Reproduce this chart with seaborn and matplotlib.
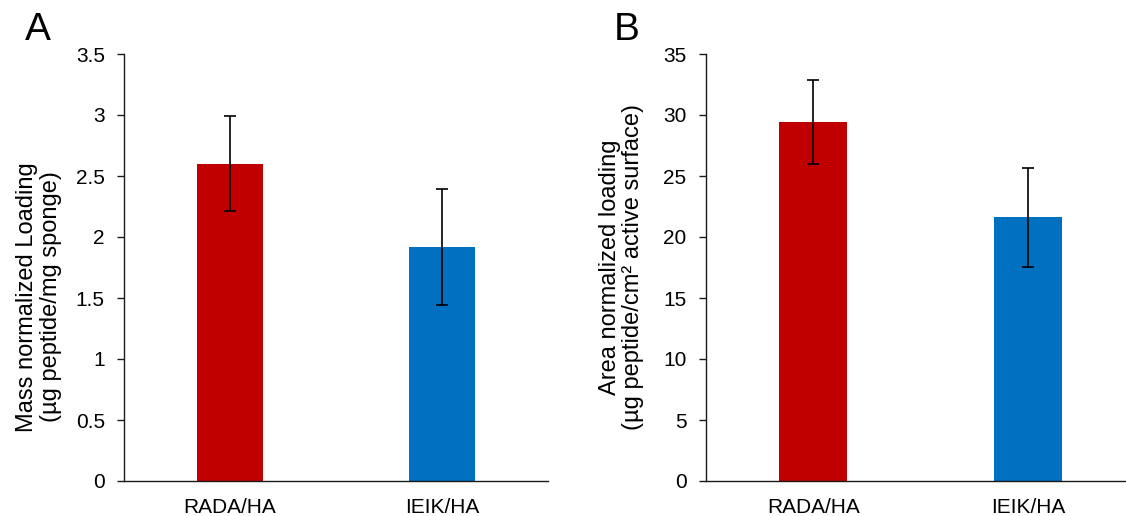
import matplotlib
matplotlib.use("Agg")
import matplotlib.pyplot as plt
import seaborn as sns
import pandas as pd

categories = ["RADA/HA", "IEIK/HA"]
mass_values = [2.60, 1.92]
mass_errors = [0.39, 0.475]
area_values = [29.4, 21.6]
area_errors = [3.45, 4.05]
bar_colors = ["#C00000", "#0070C0"]

sns.set_style("white")
plt.rcParams["font.family"] = ["Liberation Sans", "DejaVu Sans"]
plt.rcParams["font.size"] = 15
plt.rcParams["text.color"] = "black"
plt.rcParams["axes.labelcolor"] = "black"
plt.rcParams["xtick.color"] = "black"
plt.rcParams["ytick.color"] = "black"

fig = plt.figure(figsize=(11.26, 5.16), dpi=100)
axA = fig.add_axes([124 / 1126, 35 / 516, 424 / 1126, 427 / 516])
axB = fig.add_axes([705.7 / 1126, 35 / 516, 420.3 / 1126, 427 / 516])

def draw(ax, values, errors, ylim, yticks, ticklabels, ylabel, xmax, label_y):
    df = pd.DataFrame({"cat": categories, "val": values})
    sns.barplot(data=df, x="cat", y="val", hue="cat", palette=bar_colors,
                legend=False, width=0.316, errorbar=None, ax=ax,
                saturation=1, linewidth=0)
    ax.errorbar(x=list(range(len(categories))), y=values, yerr=errors,
                fmt="none", ecolor="black", elinewidth=1.2, capsize=4,
                capthick=1.2)
    ax.set_xlim(-0.5, xmax)
    ax.set_ylim(*ylim)
    ax.set_yticks(yticks)
    ax.set_yticklabels(ticklabels)
    ax.set_xlabel("")
    ax.set_ylabel(ylabel, fontsize=17, linespacing=1.1, color="black")
    ax.yaxis.set_label_coords(-0.146, label_y)
    for s in ["top", "right"]:
        ax.spines[s].set_visible(False)
    for s in ["left", "bottom"]:
        ax.spines[s].set_color("#1a1a1a")
        ax.spines[s].set_linewidth(1.0)
    ax.tick_params(axis="y", left=True, length=4.8, width=1.0, color="#1a1a1a",
                   pad=9, labelsize=15, labelcolor="black")
    ax.tick_params(axis="x", bottom=False, length=0, pad=12, labelsize=15,
                   labelcolor="black")

draw(axA, mass_values, mass_errors, (0, 3.5),
     [0, 0.5, 1, 1.5, 2, 2.5, 3, 3.5],
     ["0", "0.5", "1", "1.5", "2", "2.5", "3", "3.5"],
     "Mass normalized Loading\n(µg peptide/mg sponge)", 1.5, 0.431)
draw(axB, area_values, area_errors, (0, 35),
     [0, 5, 10, 15, 20, 25, 30, 35],
     ["0", "5", "10", "15", "20", "25", "30", "35"],
     "Area normalized loading\n(µg peptide/cm² active surface)", 1.455, 0.5)

fig.text(25 / 1126, 1 - 12 / 516, "A", fontsize=28, va="top", ha="left")
fig.text(614 / 1126, 1 - 12 / 516, "B", fontsize=28, va="top", ha="left")

fig.savefig("out.png", dpi=100)
